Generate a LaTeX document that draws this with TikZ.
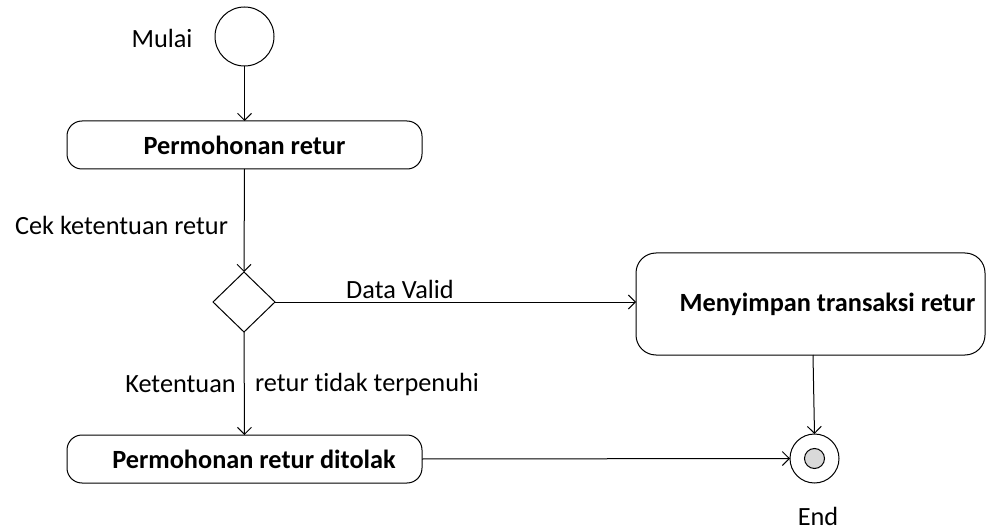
\documentclass[tikz,border=0pt]{standalone}
\usepackage{fontspec}
\setmainfont{Carlito}[Ligatures=NoCommon]
\usetikzlibrary{arrows.meta,shapes.geometric}
\begin{document}
\begin{tikzpicture}[x=1pt,y=-1pt,
  font=\fontsize{26.3}{31}\selectfont,
  every node/.style={inner sep=0pt, outer sep=0pt},
  flow/.style={draw=black, line width=1pt, -{Straight Barb[length=7pt,width=14pt,line width=1pt]}},
  act/.style={draw=black, line width=1pt, rectangle, rounded corners=15pt, font=\fontsize{26.3}{31}\selectfont\bfseries},
  lbl/.style={anchor=center}
]
\useasboundingbox (0,0) rectangle (989,532);
% start
\node[draw, line width=1pt, circle, minimum size=59pt] (start) at (244.5,36.5) {};
\node[lbl] (mulai) at (162,38) {Mulai};
% activities
\node[act, minimum width=355pt, minimum height=48pt] (req) at (244.5,145) {Permohonan retur};
\node[draw, line width=1pt, diamond, aspect=1, minimum width=62pt, minimum height=60pt] (dec) at (244,302) {};
\node[act, rounded corners=20pt, minimum width=349pt, minimum height=102pt] (save) at (810.5,304) {\hspace*{34pt}Menyimpan transaksi retur};
\node[act, minimum width=355pt, minimum height=48pt] (rej) at (244.5,459) {\hspace*{19pt}Permohonan retur ditolak};
% end
\node[draw, line width=1pt, circle, minimum size=49pt] (end) at (814.5,458.5) {};
\node[draw, line width=1pt, circle, minimum size=20pt, fill=black!15] (endin) at (end.center) {};
% labels
\node[lbl] (cek) at (121.5,225) {Cek ketentuan retur};
\node[lbl] (valid) at (400,289) {Data Valid};
\node[lbl] (ket) at (180.5,384) {Ketentuan};
\node[lbl] (tidak) at (367,384) {retur tidak terpenuhi};
\node[lbl] (endl) at (818,516) {End};
% connectors
\draw[flow] (start.south) -- (req.north);
\draw[flow] (req.south) -- (dec.north);
\draw[flow] (dec.east) -- (save.west |- dec.east);
\draw[flow] (dec.south) -- (rej.north);
\draw[flow] (save.south -| 813,0) -- (end.north);
\draw[flow] (rej.east) -- (end.west);
\end{tikzpicture}
\end{document}
